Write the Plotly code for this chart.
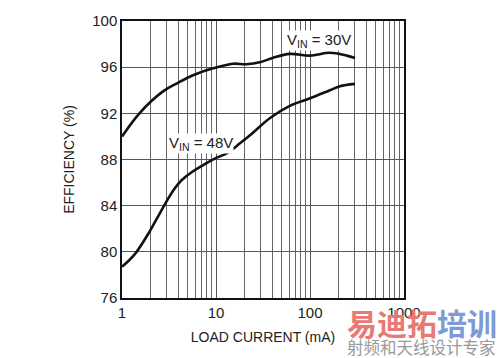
import plotly.graph_objects as go

x30 = [1.0, 1.55, 2.73, 3.85, 5.7, 9.3, 15.2, 21, 30, 40, 61, 100, 163, 246, 301]
y30 = [90.0, 92.05, 93.9, 94.6, 95.3, 95.9, 96.3, 96.25, 96.45, 96.8, 97.15, 97.0, 97.25, 97.0, 96.8]
x48 = [1.0, 1.37, 1.98, 2.43, 2.99, 3.6, 4.3, 5.5, 7.6, 9.7, 13.4, 18, 23, 37.6, 61, 100, 163, 208, 301]
y48 = [78.7, 79.8, 81.8, 83.1, 84.4, 85.45, 86.2, 86.9, 87.6, 88.07, 88.6, 89.4, 90.1, 91.6, 92.65, 93.3, 94.0, 94.35, 94.55]
xticks = [1, 10, 100, 1000]
xminor = [m * d for d in (1, 10, 100) for m in range(2, 10)]
yticks = [76, 80, 84, 88, 92, 96, 100]

FONT = "Liberation Sans Narrow, Arial Narrow, Liberation Sans, sans-serif"
fig = go.Figure()
for xs, ys in ((x30, y30), (x48, y48)):
    fig.add_trace(go.Scatter(x=xs, y=ys, mode="lines",
                             line=dict(color="#111111", width=2.6, shape="spline", smoothing=1.0),
                             showlegend=False))

fig.update_layout(
    width=500, height=358, margin=dict(l=122, r=96, t=17, b=60),
    paper_bgcolor="white", plot_bgcolor="white",
    font=dict(family=FONT, size=14, color="#222222"),
    xaxis=dict(type="log", range=[0, 3], tickvals=xticks, ticktext=[str(v) for v in xticks],
               showgrid=True, gridcolor="#555555", gridwidth=1,
               minor=dict(tickvals=xminor, showgrid=True, gridcolor="#666666", gridwidth=1),
               showline=True, linecolor="#111111", linewidth=1.5, mirror=True,
               ticks="", tickfont=dict(size=15),
               title=dict(text="LOAD CURRENT (mA)", font=dict(size=14), standoff=12)),
    yaxis=dict(range=[76, 100], tickvals=yticks, showgrid=True, gridcolor="#555555", gridwidth=1,
               showline=True, linecolor="#111111", linewidth=1.5, mirror=True,
               ticks="", tickfont=dict(size=15), zeroline=False,
               title=dict(text="EFFICIENCY (%)", font=dict(size=14), standoff=14)),
)

fig.add_annotation(x=2.1, y=98.3, xref="x", yref="y", text="V<sub>IN</sub> = 30V",
                   showarrow=False, font=dict(size=15, family=FONT, color="#222222"),
                   bgcolor="white", borderpad=0, xanchor="center", yanchor="middle")
fig.add_annotation(x=0.84, y=89.4, xref="x", yref="y", text="V<sub>IN</sub> = 48V",
                   showarrow=False, font=dict(size=15, family=FONT, color="#222222"),
                   bgcolor="white", borderpad=0, xanchor="center", yanchor="middle")

# watermark
fig.add_annotation(x=(345 - 122) / 282, y=(298 - 322) / 281, xref="paper", yref="paper",
                   text="<b><span style='color:#e87a74'>易迪拓</span><span style='color:#7f9bd6'>培训</span></b>",
                   showarrow=False, xanchor="left", yanchor="middle",
                   font=dict(size=30, family="Noto Sans CJK SC"))
fig.add_annotation(x=(345 - 122) / 282, y=(298 - 348) / 281, xref="paper", yref="paper",
                   text="射频和天线设计专家", showarrow=False, xanchor="left", yanchor="middle",
                   font=dict(size=16.5, family="Noto Sans CJK SC", color="#999999"))

fig.write_html("out.html")
